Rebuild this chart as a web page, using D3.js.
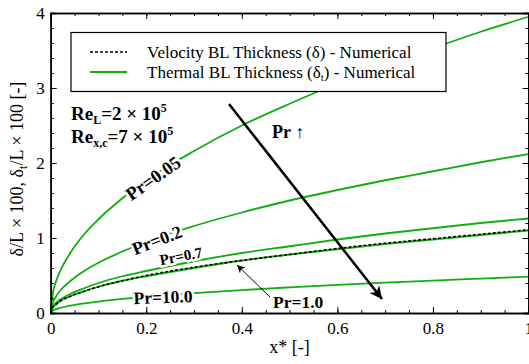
<!DOCTYPE html>
<html lang="en">
<head>
<meta charset="UTF-8">
<title>BL thickness</title>
<script src="https://d3js.org/d3.v7.min.js"></script>
<style>
    body { margin: 0; background: #fff; }
    svg text { font-family: "Liberation Serif", "Times New Roman", serif; fill: #000; }
    .axis path, .axis line { stroke: #000; }
    .lbl { font-weight: bold; stroke: #fff; stroke-width: 5px; paint-order: stroke; stroke-linejoin: round; }
</style>
</head>
<body>
<svg></svg>
<script>
    // x* positions where the curves were read
    var xs = [0, 0.005, 0.01, 0.02, 0.04, 0.07, 0.1, 0.15, 0.2, 0.3, 0.4, 0.5, 0.6, 0.7, 0.8, 0.9, 1.0];
    // thermal BL thickness, one array per Prandtl number
    var pr005 = [0, 0.28, 0.40, 0.56, 0.79, 1.05, 1.25, 1.53, 1.77, 2.16, 2.50, 2.79, 3.06, 3.30, 3.53, 3.75, 3.95];
    var pr02  = [0, 0.15, 0.21, 0.30, 0.42, 0.56, 0.67, 0.82, 0.95, 1.16, 1.34, 1.50, 1.64, 1.77, 1.89, 2.01, 2.12];
    var pr07  = [0, 0.09, 0.13, 0.18, 0.25, 0.33, 0.40, 0.49, 0.56, 0.69, 0.80, 0.89, 0.98, 1.06, 1.13, 1.20, 1.26];
    var pr10  = [0, 0.08, 0.11, 0.16, 0.22, 0.29, 0.35, 0.43, 0.49, 0.60, 0.70, 0.78, 0.85, 0.92, 0.98, 1.04, 1.10];
    var pr100 = [0, 0.034, 0.048, 0.068, 0.097, 0.128, 0.153, 0.187, 0.216, 0.265, 0.306, 0.342, 0.375, 0.405, 0.433, 0.459, 0.484];
    // velocity BL thickness
    var velocity = [0, 0.08, 0.11, 0.16, 0.22, 0.29, 0.35, 0.43, 0.50, 0.61, 0.70, 0.78, 0.86, 0.93, 0.99, 1.05, 1.11];

    var xTicks = [0, 0.2, 0.4, 0.6, 0.8, 1];
    var yTicks = [0, 1, 2, 3, 4];

    var W = 529, H = 364;
    var pL = 50.7, pR = 528.5, pT = 13, pB = 313;
    var green = "#0faf0f";
    var serif = "Liberation Serif";

    var svg = d3.select("svg").attr("width", W).attr("height", H);

    var x = d3.scaleLinear().domain([0, 1]).range([pL, pR]);
    var y = d3.scaleLinear().domain([0, 4]).range([pB, pT]);

    var defs = svg.append("defs");
    defs.append("clipPath").attr("id", "clip")
        .append("rect").attr("x", pL).attr("y", pT)
        .attr("width", pR - pL).attr("height", pB - pT);
    defs.append("marker").attr("id", "bigHead")
        .attr("viewBox", "0 0 10 10").attr("refX", 10).attr("refY", 5)
        .attr("markerWidth", 6).attr("markerHeight", 5).attr("markerUnits", "strokeWidth")
        .attr("orient", "auto")
        .append("path").attr("d", "M0,0 L10,5 L0,10 L3,5 Z").attr("fill", "#000");
    defs.append("marker").attr("id", "smallHead")
        .attr("viewBox", "0 0 10 10").attr("refX", 10).attr("refY", 5)
        .attr("markerWidth", 10).attr("markerHeight", 8).attr("markerUnits", "strokeWidth")
        .attr("orient", "auto")
        .append("path").attr("d", "M0,0 L10,5 L0,10 L3,5 Z").attr("fill", "#000");

    var line = d3.line()
        .x(function (d, i) { return x(xs[i]); })
        .y(function (d) { return y(d); })
        .curve(d3.curveMonotoneX);

    var plot = svg.append("g").attr("clip-path", "url(#clip)");
    [pr005, pr02, pr07, pr10, pr100].forEach(function (s) {
        plot.append("path").attr("d", line(s))
            .attr("fill", "none").attr("stroke", green).attr("stroke-width", 1.8);
    });
    plot.append("path").attr("d", line(velocity))
        .attr("fill", "none").attr("stroke", "#000").attr("stroke-width", 1.6)
        .attr("stroke-dasharray", "3,2");

    // axes, ticks pointing inward on all four sides
    function drawAxis(axis, tr) {
        svg.append("g").classed("axis", true).attr("transform", tr).call(axis);
    }
    var xMinor = d3.range(0, 1.0001, 0.05);
    var yMinor = d3.range(0, 4.0001, 0.2);
    drawAxis(d3.axisBottom(x).tickValues(xMinor).tickSize(-3).tickFormat(""), "translate(0," + pB + ")");
    drawAxis(d3.axisTop(x).tickValues(xMinor).tickSize(-3).tickFormat(""), "translate(0," + pT + ")");
    drawAxis(d3.axisLeft(y).tickValues(yMinor).tickSize(-3).tickFormat(""), "translate(" + pL + ",0)");
    drawAxis(d3.axisRight(y).tickValues(yMinor).tickSize(-3).tickFormat(""), "translate(" + pR + ",0)");

    var xAxis = d3.axisBottom(x).tickValues(xTicks).tickSize(-6).tickPadding(9).tickFormat(d3.format("~g"));
    var yAxis = d3.axisLeft(y).tickValues(yTicks).tickSize(-6).tickPadding(6).tickFormat(d3.format("d"));
    drawAxis(xAxis, "translate(0," + pB + ")");
    drawAxis(yAxis, "translate(" + pL + ",0)");
    drawAxis(d3.axisTop(x).tickValues(xTicks).tickSize(-6).tickFormat(""), "translate(0," + pT + ")");
    drawAxis(d3.axisRight(y).tickValues(yTicks).tickSize(-6).tickFormat(""), "translate(" + pR + ",0)");

    svg.selectAll(".axis").attr("font-family", serif);
    svg.selectAll(".axis path.domain").attr("stroke-width", 1.6);
    svg.selectAll(".axis text").attr("font-family", serif).attr("font-size", 17).attr("fill", "#000");

    // axis titles
    svg.append("text").attr("x", x(0.5)).attr("y", 353).attr("font-family", serif)
        .attr("text-anchor", "middle").attr("font-size", 18).text("x* [-]");
    var yt = svg.append("text").attr("transform", "translate(23,169) rotate(-90)")
        .attr("text-anchor", "middle").attr("font-size", 18).attr("font-family", serif);
    yt.append("tspan").text("δ/L × 100, δ");
    yt.append("tspan").attr("font-size", 12).attr("dy", 4).text("t");
    yt.append("tspan").attr("dy", -4).text("/L × 100  [-]");

    // legend
    svg.append("rect").attr("x", 71).attr("y", 32.5).attr("width", 375).attr("height", 59)
        .attr("fill", "#fff").attr("stroke", "#000").attr("stroke-width", 1.2);
    svg.append("line").attr("x1", 90).attr("x2", 127).attr("y1", 52).attr("y2", 52)
        .attr("stroke", "#000").attr("stroke-width", 1.6).attr("stroke-dasharray", "3,2");
    svg.append("line").attr("x1", 90).attr("x2", 127).attr("y1", 72).attr("y2", 72)
        .attr("stroke", green).attr("stroke-width", 1.8);
    svg.append("text").attr("x", 147).attr("y", 58).attr("font-size", 17).attr("font-family", serif)
        .text("Velocity BL Thickness (δ) - Numerical");
    var lt = svg.append("text").attr("x", 147).attr("y", 78).attr("font-size", 17).attr("font-family", serif);
    lt.append("tspan").text("Thermal BL Thickness (δ");
    lt.append("tspan").attr("font-size", 11).attr("dy", 3).text("t");
    lt.append("tspan").attr("dy", -3).text(") - Numerical");

    // Reynolds numbers
    function reLabel(sub, val, yy) {
        var t = svg.append("text").attr("x", 71).attr("y", yy).attr("font-size", 19)
            .attr("font-weight", "bold").attr("font-family", serif);
        t.append("tspan").text("Re");
        t.append("tspan").attr("font-size", 12).attr("dy", 4).text(sub);
        t.append("tspan").attr("dy", -4).text("=" + val + " × 10");
        t.append("tspan").attr("font-size", 12).attr("dy", -8).text("5");
    }
    reLabel("L", 2, 120);
    reLabel("x,c", 7, 143);

    // curve labels
    function curveLabel(t, cx, cy, ang, fs) {
        svg.append("text").classed("lbl", true).attr("font-family", serif)
            .attr("transform", "translate(" + cx + "," + cy + ") rotate(" + ang + ")")
            .attr("text-anchor", "middle").attr("dy", "0.35em")
            .attr("font-size", fs).text(t);
    }
    curveLabel("Pr=0.05", 153, 178, -35, 18.5);
    curveLabel("Pr=0.2", 157, 240, -21, 18);
    curveLabel("Pr=0.7", 181, 256, -11, 15);
    curveLabel("Pr=10.0", 163, 297, -2, 17.5);

    // Pr=1.0 callout
    svg.append("line").attr("x1", 270).attr("y1", 297).attr("x2", 237).attr("y2", 265)
        .attr("stroke", "#000").attr("stroke-width", 1).attr("marker-end", "url(#smallHead)");
    svg.append("text").attr("x", 273).attr("y", 308).attr("font-size", 17.5).attr("font-family", serif)
        .attr("font-weight", "bold").text("Pr=1.0");

    // Pr increasing arrow
    svg.append("line").attr("x1", 229).attr("y1", 104).attr("x2", 382).attr("y2", 299)
        .attr("stroke", "#000").attr("stroke-width", 2.5).attr("marker-end", "url(#bigHead)");
    var pa = svg.append("text").attr("x", 272).attr("y", 138).attr("font-size", 18).attr("font-family", serif);
    pa.append("tspan").attr("font-weight", "bold").text("Pr ");
    pa.append("tspan").text("↑");
</script>
</body>
</html>
